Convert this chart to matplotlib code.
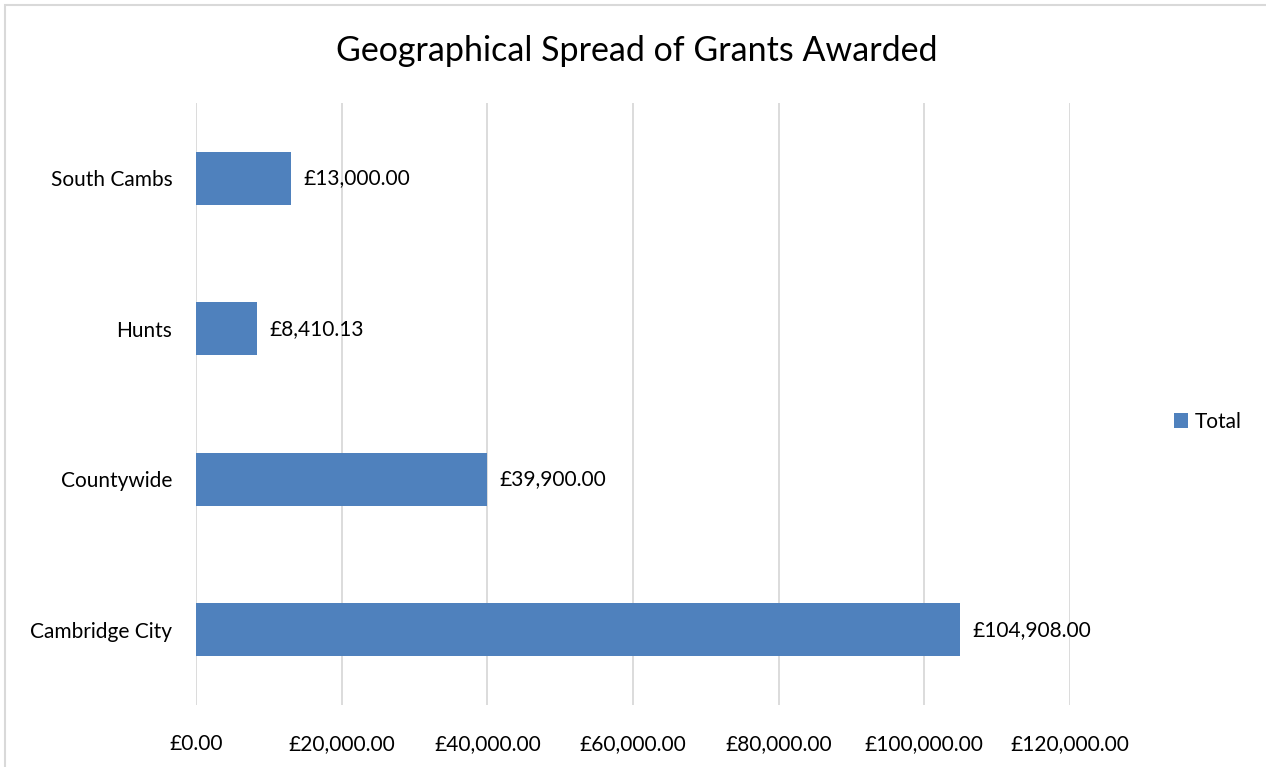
import matplotlib.pyplot as plt
from matplotlib.patches import Rectangle

# Données du graphique
regions = ['Cambridge City', 'Countywide', 'Hunts', 'South Cambs']
totals = [104908.00, 39900.00, 8410.13, 13000.00]
x_ticks = [0, 20000, 40000, 60000, 80000, 100000, 120000]

plt.rcParams['font.family'] = ['Lato', 'DejaVu Sans']

fig = plt.figure(figsize=(12.66, 7.67), dpi=100)
ax = fig.add_axes([0.1548, 0.0808, 0.6904, 0.7849])

bars = ax.barh(regions, totals, height=0.35, color='#4f81bd', label='Total', zorder=3)

ax.set_xlim(0, 120000)
ax.set_ylim(-0.5, len(regions) - 0.5)
ax.set_xticks(x_ticks)
ax.set_xticklabels([f'£{v:,.2f}' for v in x_ticks], fontsize=15)
ax.tick_params(axis='y', labelsize=15, length=0, pad=17)
ax.tick_params(axis='x', length=0, pad=21)
ax.grid(axis='x', color='#d9d9d9', linewidth=1.3, zorder=0)
for s in ax.spines.values():
    s.set_visible(False)

# étiquettes de valeur
for b, v in zip(bars, totals):
    ax.text(b.get_width() + 1700, b.get_y() + b.get_height() / 2, f'£{v:,.2f}',
            va='center', ha='left', fontsize=15)

fig.text(0.503, 0.933, 'Geographical Spread of Grants Awarded', ha='center', va='center', fontsize=24.5)

leg = ax.legend(loc='center left', bbox_to_anchor=(1.097, 0.47), frameon=False, fontsize=15,
                handlelength=0.7, handleheight=0.7, handletextpad=0.3)

# cadre du graphique
fig.patches.append(Rectangle((5 / 1266, -0.1), 1.2, 1 - 5 / 767 + 0.1, transform=fig.transFigure,
                             fill=False, edgecolor='#d9d9d9', linewidth=1.5))

fig.savefig('out.png', dpi=100)
